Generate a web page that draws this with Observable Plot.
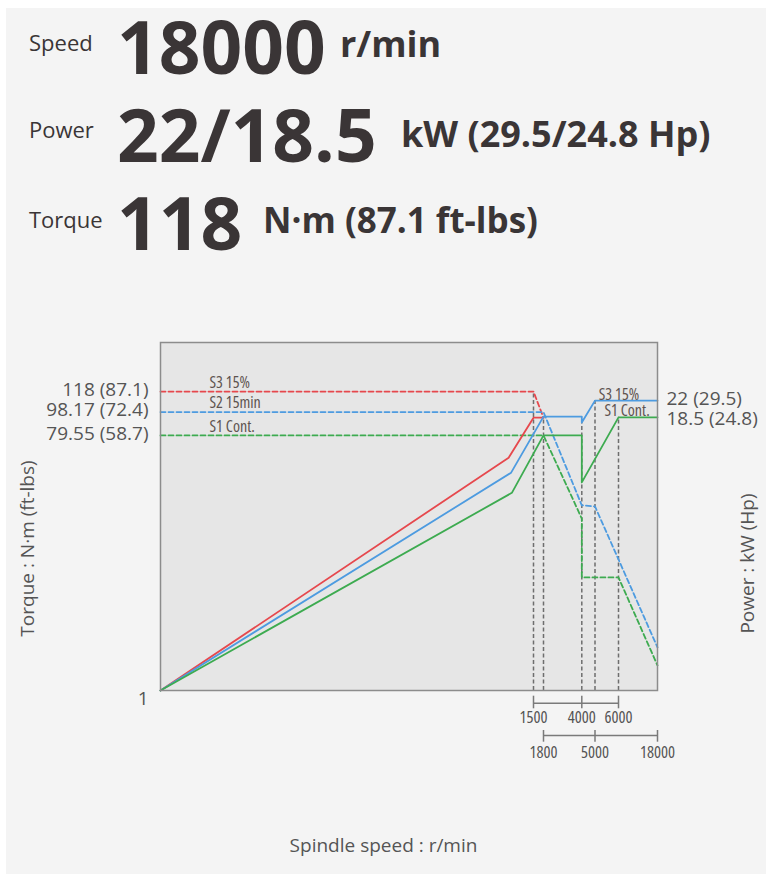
<!DOCTYPE html>
<html><head><meta charset="utf-8">
<script src="https://cdn.jsdelivr.net/npm/d3@7"></script>
<script src="https://cdn.jsdelivr.net/npm/@observablehq/plot@0.6"></script>
<style>
body{margin:0;background:#fff;}
#wrap{position:relative;width:772px;height:879px;overflow:hidden;background:#fff;}
#panel{position:absolute;left:6px;top:8px;width:760px;height:866px;background:#f4f4f4;}
#head{position:absolute;left:0;top:0;}
#chart{position:absolute;left:0;top:300px;}
#chart g[aria-label="x-axis tick label"] text,
#chart g[aria-description="curve name"] text{font-stretch:75%;}
</style></head><body>
<div id="wrap"><div id="panel"></div><svg id="head" width="772" height="300"></svg><div id="chart"></div></div>
<script>
// ---- data ----
const specLabels = ["Speed", "Power", "Torque"];
const specValues = ["18000", "22/18.5", "118"];
const specUnits = ["r/min", "kW (29.5/24.8 Hp)", "N·m (87.1 ft-lbs)"];

const speedBreaks = [0, 1500, 1800, 4000, 5000, 6000, 18000];
// curves: [speed r/min, level as % of chart height]
const s3Power  = [[0, 0], [1400, 66.9], [1500, 78.4], [1800, 78.4]];
const s3Torque = [[0, 85.9], [1500, 85.9], [1800, 78.4]];
const s2Power  = [[0, 0], [1410, 62.6], [1800, 78.7], [4000, 78.7], [4000, 77.0], [5000, 83.3], [18000, 83.3]];
const s2Torque = [[0, 80.0], [1800, 80.0], [4000, 53.2], [5000, 52.9], [18000, 12.4]];
const s1Power  = [[0, 0], [1413, 56.8], [1800, 73.3], [4000, 73.3], [4000, 59.8], [6000, 78.5], [18000, 78.5]];
const s1Torque = [[0, 73.3], [1800, 73.3], [4000, 49.4], [4000, 32.5], [6000, 32.5], [18000, 7.2]];

const guideSpeeds = [1500, 1800, 4000, 5000, 6000];
const guideTops = [85.9, 78.7, 77.0, 83.3, 78.5];

const torqueLevels = [85.9, 80.0, 73.3];
const torqueLabels = ["118 (87.1)", "98.17 (72.4)", "79.55 (58.7)"];
const originLabel = "1";
const powerLevels = [83.3, 78.5];
const powerLabels = ["22 (29.5)", "18.5 (24.8)"];
const curveNames = ["S3 15%", "S2 15min", "S1 Cont."];
const rightNames = ["S3 15%", "S1 Cont."];
const rightNameSpeeds = [5160, 5400];
const bracketUpper = [1500, 4000, 6000];
const bracketLower = [1800, 5000, 18000];

// ---- header ----
const head = d3.select("#head").attr("font-family", "'Open Sans', sans-serif").attr("fill", "#3a3536");
const labelY = [51, 138, 228], valueY = [74, 162, 250], unitY = [57, 147, 233];
const unitX = [340, 401, 263], unitSize = [36, 36, 35];
specLabels.forEach((t, i) => {
  head.append("text").attr("x", 29).attr("y", labelY[i]).attr("font-size", 22).text(t);
  head.append("text").attr("x", 117).attr("y", valueY[i]).attr("font-size", 73).attr("font-weight", 700).text(specValues[i]);
  head.append("text").attr("x", unitX[i]).attr("y", unitY[i]).attr("font-size", unitSize[i]).attr("font-weight", 700).text(specUnits[i]);
});

// ---- chart ----
const RED = "#e6484d", BLUE = "#4d9be0", GREEN = "#3dab50";
const toObj = a => a.map(([s, v]) => ({s, v}));
const lineOpts = (stroke, dashed) => ({x: "s", y: "v", stroke, strokeWidth: 1.8, strokeDasharray: dashed ? "5,3" : null});

const chart = Plot.plot({
  width: 772, height: 579,
  marginTop: 42, marginBottom: 189, marginLeft: 160, marginRight: 115,
  style: {background: "transparent", fontFamily: "'Open Sans', sans-serif"},
  x: {type: "linear", domain: speedBreaks, range: [160, 533, 543, 581.3, 594.5, 618, 657], axis: null},
  y: {domain: [0, 100], axis: null},
  marks: [
    Plot.frame({fill: "#e6e6e6"}),
    Plot.ruleX(guideSpeeds.map((s, i) => ({s, top: guideTops[i]})), {x: "s", y1: 0, y2: "top", stroke: "#6e6e6e", strokeWidth: 1.5, strokeDasharray: "4,2.5"}),
    Plot.line(toObj(s3Torque), lineOpts(RED, true)),
    Plot.line(toObj(s2Torque), lineOpts(BLUE, true)),
    Plot.line(toObj(s1Torque), lineOpts(GREEN, true)),
    Plot.line(toObj(s3Power), lineOpts(RED, false)),
    Plot.line(toObj(s2Power), lineOpts(BLUE, false)),
    Plot.line(toObj(s1Power), lineOpts(GREEN, false)),
    Plot.frame({stroke: "#8c8c8c", strokeWidth: 1.5}),
    // curve names
    Plot.text(curveNames.map((n, i) => ({n, v: torqueLevels[i]})), {x: () => 197, y: "v", text: "n", textAnchor: "start", dy: -9, fontSize: 16, fill: "#5e5450", ariaDescription: "curve name"}),
    Plot.text(rightNames.map((n, i) => ({n, s: rightNameSpeeds[i], v: powerLevels[i]})), {x: "s", y: "v", text: "n", textAnchor: "start", dy: -6, fontSize: 16, fill: "#5e5450", ariaDescription: "curve name"}),
    // y labels
    Plot.text(torqueLabels.map((t, i) => ({t, v: torqueLevels[i]})), {y: "v", text: "t", frameAnchor: "left", textAnchor: "end", dx: -12, dy: -2, fontSize: 19, fill: "#555"}),
    Plot.text([{t: originLabel, v: 0}], {y: "v", text: "t", frameAnchor: "left", textAnchor: "end", dx: -12, dy: 8, fontSize: 19, fill: "#555"}),
    Plot.text([{t: powerLabels[0], v: powerLevels[0]}], {y: "v", text: "t", frameAnchor: "right", textAnchor: "start", dx: 9, dy: -2, fontSize: 19, fill: "#555"}),
    Plot.text([{t: powerLabels[1], v: powerLevels[1]}], {y: "v", text: "t", frameAnchor: "right", textAnchor: "start", dx: 9, dy: 2, fontSize: 19, fill: "#555"}),
    // axis titles
    Plot.text(["Torque : N·m (ft-lbs)"], {frameAnchor: "left", textAnchor: "middle", rotate: -90, dx: -133, dy: 32, fontSize: 19, fill: "#555"}),
    Plot.text(["Power : kW (Hp)"], {frameAnchor: "right", textAnchor: "middle", rotate: -90, dx: 90, dy: 47, fontSize: 19, fill: "#555"}),
    Plot.text(["Spindle speed : r/min"], {frameAnchor: "bottom", lineAnchor: "middle", dx: -25.5, dy: 155, fontSize: 19, fill: "#555"}),
    // speed brackets
    Plot.ruleY([0], {x1: () => bracketUpper[0], x2: () => bracketUpper[bracketUpper.length - 1], dy: 12.7, stroke: "#7a7a7a", strokeWidth: 1.5}),
    Plot.ruleY([0], {x1: () => bracketLower[0], x2: () => bracketLower[bracketLower.length - 1], dy: 45, stroke: "#7a7a7a", strokeWidth: 1.5}),
    Plot.axisX(bracketUpper, {anchor: "bottom", tickSize: 12.6, tickPadding: 2.5, dy: 5.7, tickFormat: d => String(d), stroke: "#7a7a7a", strokeWidth: 1.5, fill: "#555", fontSize: 16.5, fontFamily: "'Open Sans', sans-serif", label: null}),
    Plot.axisX(bracketLower, {anchor: "bottom", tickSize: 11.7, tickPadding: 4, dy: 40, tickFormat: d => String(d), stroke: "#7a7a7a", strokeWidth: 1.5, fill: "#555", fontSize: 16.5, fontFamily: "'Open Sans', sans-serif", label: null})
  ]
});
document.getElementById("chart").appendChild(chart);
</script>
</body></html>
